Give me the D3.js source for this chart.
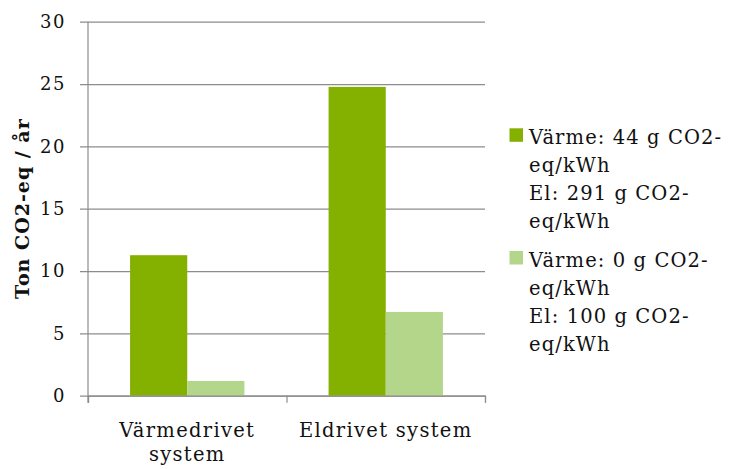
<!DOCTYPE html>
<html><head><meta charset="utf-8">
<script src="https://cdn.jsdelivr.net/npm/d3@7"></script>
<style>body{margin:0;background:#fff}svg{display:block}text{font-family:"DejaVu Serif",serif;fill:#111}</style>
</head><body><svg id="c" width="729" height="469"></svg>
<script>
const categories = [["Värmedrivet","system"],["Eldrivet system"]];
const seriesNames = [
  ["Värme: 44 g CO2-","eq/kWh","El: 291 g CO2-","eq/kWh"],
  ["Värme: 0 g CO2-","eq/kWh","El: 100 g CO2-","eq/kWh"]
];
const seriesA = [11.27, 24.77];
const seriesB = [1.18, 6.72];
const yTicks = [0,5,10,15,20,25,30];
const colors = ["#84b000","#b4d68a"];

const svg = d3.select("#c");
const L=88, R=485, T=21.7, B=395.7;
const y = d3.scaleLinear().domain([0,30]).range([B,T]);
const catIdx = categories.map((c,i)=>i);
const x0 = d3.scaleBand().domain(catIdx).range([L,R]).padding(0);
const bw = x0.bandwidth();
const x1 = d3.scaleBand().domain([0,1]).range([bw*0.212, bw*0.788]).padding(0);

const ya = svg.append("g").attr("transform",`translate(${L},0)`)
  .call(d3.axisLeft(y).tickValues(yTicks).tickSize(-(R-L)).tickSizeOuter(0).tickPadding(22));
ya.select(".domain").remove();
ya.selectAll(".tick line").attr("stroke","#8c8c8c").attr("stroke-width",1.2).attr("x1",-8);
ya.selectAll(".tick text").attr("font-size",18).attr("font-family","DejaVu Serif").attr("fill","#111")
  .attr("letter-spacing",1.5).attr("dx",0);

const data = catIdx.map(i=>[seriesA[i],seriesB[i]]);
const g = svg.append("g");
data.forEach((vals,i)=>{
  g.selectAll(null).data(vals).enter().append("rect")
    .attr("x",(d,j)=>x0(i)+x1(j)).attr("width",x1.bandwidth())
    .attr("y",d=>y(d)).attr("height",d=>B-y(d))
    .attr("fill",(d,j)=>colors[j]);
});

svg.append("line").attr("x1",L).attr("x2",L).attr("y1",T).attr("y2",B+7).attr("stroke","#8c8c8c").attr("stroke-width",1.2);
const xa = svg.append("g").attr("transform",`translate(0,${B})`)
  .call(d3.axisBottom(d3.scaleLinear().domain([0,2]).range([L,R])).tickValues([0,1,2]).tickSize(7).tickFormat(""));
xa.select(".domain").attr("stroke","#8c8c8c").attr("stroke-width",1.2);
xa.selectAll(".tick line").attr("stroke","#8c8c8c").attr("stroke-width",1.2);

categories.forEach((lines,i)=>{
  const t = svg.append("text").attr("text-anchor","middle").attr("font-size",19.5).attr("letter-spacing",1.3)
    .attr("x",x0(i)+bw/2).attr("y",437);
  lines.forEach((l,k)=>t.append("tspan").attr("x",x0(i)+bw/2).attr("dy",k?24:0).text(l));
});

svg.append("text").attr("transform",`translate(29,${(T+B)/2}) rotate(-90)`)
  .attr("text-anchor","middle").attr("font-size",19).attr("font-weight","bold").attr("letter-spacing",1).text("Ton CO2-eq / år");

const legY = [144, 266.7];
seriesNames.forEach((lines,j)=>{
  svg.append("rect").attr("x",509.5).attr("y",legY[j]-15.7).attr("width",13.5).attr("height",13.5).attr("fill",colors[j]);
  const t = svg.append("text").attr("font-size",19.5).attr("letter-spacing",1.1).attr("x",529).attr("y",legY[j]);
  lines.forEach((l,k)=>t.append("tspan").attr("x",529).attr("dy",k?28:0).text(l));
});
</script></body></html>
